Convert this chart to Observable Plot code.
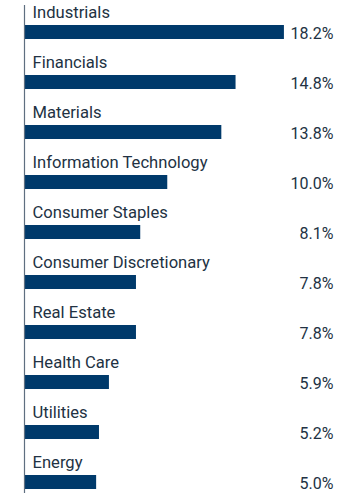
<!DOCTYPE html>
<html>
<head>
<meta charset="utf-8">
<script src="https://cdn.jsdelivr.net/npm/d3@7"></script>
<script src="https://cdn.jsdelivr.net/npm/@observablehq/plot@0.6"></script>
<style>
  html, body { margin: 0; padding: 0; background: #fff; }
  #chart svg { display: block; }
</style>
</head>
<body>
<div id="chart"></div>
<script>
const sectors = ["Industrials", "Financials", "Materials", "Information Technology", "Consumer Staples", "Consumer Discretionary", "Real Estate", "Health Care", "Utilities", "Energy"];
const weights = [18.2, 14.8, 13.8, 10.0, 8.1, 7.8, 7.8, 5.9, 5.2, 5.0];
const valueLabels = ["18.2%", "14.8%", "13.8%", "10.0%", "8.1%", "7.8%", "7.8%", "5.9%", "5.2%", "5.0%"];

const data = sectors.map((s, i) => ({ sector: s, weight: weights[i], label: valueLabels[i] }));

const barColor = "#003a6b";
const textColor = "#223243";

const chart = Plot.plot({
  width: 360,
  height: 497,
  marginLeft: 25,
  marginRight: 27,
  marginTop: 5,
  marginBottom: 4,
  style: { fontFamily: "Roboto, sans-serif", background: "#fff" },
  x: { domain: [0, 21.65], axis: null },
  y: { domain: sectors, axis: null, paddingInner: 0.72, paddingOuter: 0.219, align: 0.818 },
  marks: [
    Plot.barX(data, { x: "weight", y: "sector", fill: barColor }),
    Plot.ruleX([0], { stroke: "#5f6f80", strokeWidth: 1.2, dx: -1 }),
    Plot.text(data, {
      x: 0, y: "sector", text: "sector", textAnchor: "start",
      dx: 7, dy: -20, fontSize: 16.6, fill: textColor
    }),
    Plot.text(data, {
      y: "sector", text: "label", frameAnchor: "right", textAnchor: "end",
      dy: 1, fontSize: 16, fill: textColor
    })
  ]
});
document.getElementById("chart").appendChild(chart);
</script>
</body>
</html>
